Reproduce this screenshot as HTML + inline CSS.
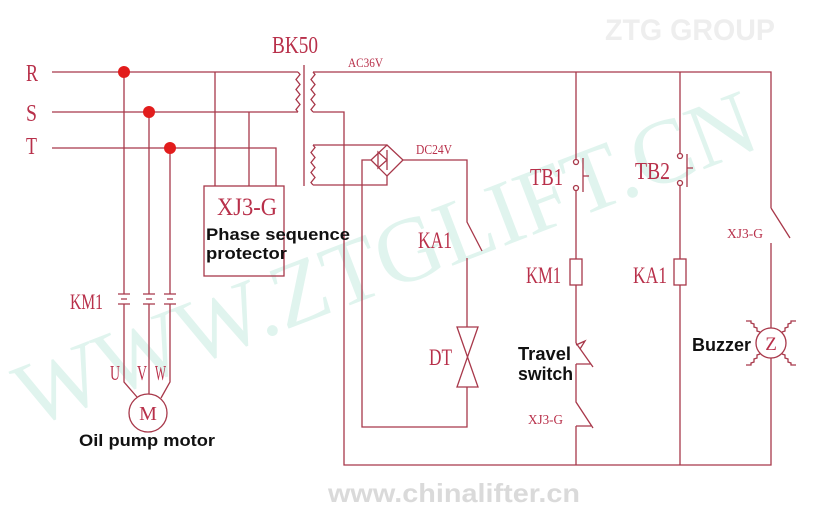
<!DOCTYPE html>
<html><head><meta charset="utf-8"><style>
html,body{margin:0;padding:0;background:#fff;}
svg{display:block}
.s{font-family:"Liberation Serif",serif;fill:#b8304a}
.b{font-family:"Liberation Sans",sans-serif;font-weight:bold;fill:#111}
</style></head><body>
<svg width="835" height="515" viewBox="0 0 835 515" xmlns="http://www.w3.org/2000/svg">
<rect width="835" height="515" fill="#fff"/>
<!-- watermarks -->
<text transform="translate(30,428) rotate(-21)" font-family="Liberation Serif" font-size="92" fill="#e0f4ee" textLength="785" lengthAdjust="spacingAndGlyphs">WWW.ZTGLIFT.CN</text>
<text x="605" y="40" font-family="Liberation Sans" font-weight="bold" font-size="30" fill="#eeeeee" textLength="170" lengthAdjust="spacingAndGlyphs">ZTG GROUP</text>
<text x="328" y="502" font-family="Liberation Sans" font-weight="bold" font-size="26" fill="#dadada" textLength="252" lengthAdjust="spacingAndGlyphs">www.chinalifter.cn</text>

<g fill="none" stroke="#a8384a" stroke-width="1.3">
  <!-- R S T -->
  <path d="M52,72 H298"/>
  <path d="M52,112 H298"/>
  <path d="M52,148 H276 V186"/>
  <!-- motor feeds -->
  <path d="M124,72 V294 M118,294 H130 M121,299 H127 M118,304 H130 M124,304 V382 L137,397"/>
  <path d="M149,112 V294 M143,294 H155 M146,299 H152 M143,304 H155 M149,304 V394"/>
  <path d="M170,148 V294 M164,294 H176 M167,299 H173 M164,304 H176 M170,304 V382 L161,398"/>
  <circle cx="148" cy="413" r="19"/>
  <!-- phase protector -->
  <path d="M215,72 V186 M249,112 V186"/>
  <rect x="204" y="186" width="80" height="90"/>
  <!-- transformer -->
  <path d="M304,65 V186"/>
  <path d="M298,72 l2,2.5 l-4,5 l4,5 l-4,5 l4,5 l-4,5 l4,5 l-4,5 l2,2.5"/>
  <path d="M313,72 l2,2.5 l-4,5 l4,5 l-4,5 l4,5 l-4,5 l4,5 l-4,5 l2,2.5"/>
  <path d="M313,145 l2,2.5 l-4,5 l4,5 l-4,5 l4,5 l-4,5 l4,5 l-4,5 l2,2.5"/>
  <!-- AC36V loop -->
  <path d="M313,72 H771 V208 M771,208 L790,238 M771,243 V328 M771,358 V465 H344 V112 H313"/>
  <circle cx="771" cy="343" r="15"/>
  <!-- bridge -->
  <path d="M313,145 H387 M313,185 H387 V176"/>
  <path d="M387,145 L403,160 L387,176 L371,160 Z"/>
  <path d="M387,150 V170 M378,152 L387,160 L378,168 Z"/>
  <path d="M371,160 H362 V427 H467 V387"/>
  <path d="M403,160 H467 V222 L482,251 M467,258 V327"/>
  <path d="M457,327 H478 L457,387 H478 Z"/>
  <!-- TB1 branch -->
  <path d="M576,72 V159.5 M576,190.5 V259 M576,285 V343"/>
  <circle cx="576" cy="162" r="2.5"/>
  <circle cx="576" cy="188" r="2.5"/>
  <path d="M583,158 V192 M583,176 H589"/>
  <rect x="570" y="259" width="12" height="26"/>
  <path d="M576,345 L585,341 L580,349 M576,343 L593,367 M576,364 H591 M576,364 V402 L593,428 M576,426 H591 M576,426 V465"/>
  <!-- TB2 branch -->
  <path d="M680,72 V153.5 M680,185.5 V259 M680,285 V465"/>
  <circle cx="680" cy="156" r="2.5"/>
  <circle cx="680" cy="183" r="2.5"/>
  <path d="M687,154 V187 M687,168 H693"/>
  <rect x="674" y="259" width="12" height="26"/>
  <!-- buzzer rays -->
  <path d="M760,332 L757,331 L757,328 L754,327 L754,324 L751,323 L751,321 L746,321"/>
  <path d="M782,332 L785,331 L785,328 L788,327 L788,324 L791,323 L791,321 L796,321"/>
  <path d="M760,354 L757,355 L757,358 L754,359 L754,362 L751,363 L751,365 L746,365"/>
  <path d="M782,354 L785,355 L785,358 L788,359 L788,362 L791,363 L791,365 L796,365"/>
</g>
<!-- dots -->
<g fill="#e21c1c">
  <circle cx="124" cy="72" r="6"/>
  <circle cx="149" cy="112" r="6"/>
  <circle cx="170" cy="148" r="6"/>
</g>
<!-- serif labels -->
<text class="s" x="26" y="81" font-size="24" textLength="12" lengthAdjust="spacingAndGlyphs">R</text>
<text class="s" x="26" y="121" font-size="24" textLength="11" lengthAdjust="spacingAndGlyphs">S</text>
<text class="s" x="26" y="154" font-size="24" textLength="11" lengthAdjust="spacingAndGlyphs">T</text>
<text class="s" x="272" y="53" font-size="24" textLength="46" lengthAdjust="spacingAndGlyphs">BK50</text>
<text class="s" x="348" y="67" font-size="13" textLength="35" lengthAdjust="spacingAndGlyphs">AC36V</text>
<text class="s" x="416" y="154" font-size="14" textLength="36" lengthAdjust="spacingAndGlyphs">DC24V</text>
<text class="s" x="217" y="215" font-size="25" textLength="60" lengthAdjust="spacingAndGlyphs">XJ3-G</text>
<text class="s" x="418" y="248" font-size="23" textLength="34" lengthAdjust="spacingAndGlyphs">KA1</text>
<text class="s" x="429" y="365" font-size="23" textLength="23" lengthAdjust="spacingAndGlyphs">DT</text>
<text class="s" x="530" y="185" font-size="24" textLength="33" lengthAdjust="spacingAndGlyphs">TB1</text>
<text class="s" x="635" y="179" font-size="24" textLength="35" lengthAdjust="spacingAndGlyphs">TB2</text>
<text class="s" x="526" y="283" font-size="23" textLength="35" lengthAdjust="spacingAndGlyphs">KM1</text>
<text class="s" x="633" y="283" font-size="23" textLength="34" lengthAdjust="spacingAndGlyphs">KA1</text>
<text class="s" x="70" y="309" font-size="22" textLength="33" lengthAdjust="spacingAndGlyphs">KM1</text>
<text class="s" x="727" y="238" font-size="14" textLength="36" lengthAdjust="spacingAndGlyphs">XJ3-G</text>
<text class="s" x="528" y="424" font-size="14" textLength="35" lengthAdjust="spacingAndGlyphs">XJ3-G</text>
<text class="s" x="110" y="380" font-size="21" textLength="10" lengthAdjust="spacingAndGlyphs">U</text>
<text class="s" x="137" y="380" font-size="21" textLength="10" lengthAdjust="spacingAndGlyphs">V</text>
<text class="s" x="155" y="380" font-size="21" textLength="11" lengthAdjust="spacingAndGlyphs">W</text>
<text class="s" x="148" y="420" font-size="20" text-anchor="middle">M</text>
<text class="s" x="771" y="350" font-size="19" text-anchor="middle">Z</text>
<!-- bold labels -->
<text class="b" x="206" y="240" font-size="17" textLength="144" lengthAdjust="spacingAndGlyphs">Phase sequence</text>
<text class="b" x="206" y="259" font-size="17" textLength="81" lengthAdjust="spacingAndGlyphs">protector</text>
<text class="b" x="79" y="446" font-size="17" textLength="136" lengthAdjust="spacingAndGlyphs">Oil pump motor</text>
<text class="b" x="518" y="360" font-size="18" textLength="53" lengthAdjust="spacingAndGlyphs">Travel</text>
<text class="b" x="518" y="380" font-size="18" textLength="55" lengthAdjust="spacingAndGlyphs">switch</text>
<text class="b" x="692" y="351" font-size="18" textLength="59" lengthAdjust="spacingAndGlyphs">Buzzer</text>
</svg>
</body></html>
